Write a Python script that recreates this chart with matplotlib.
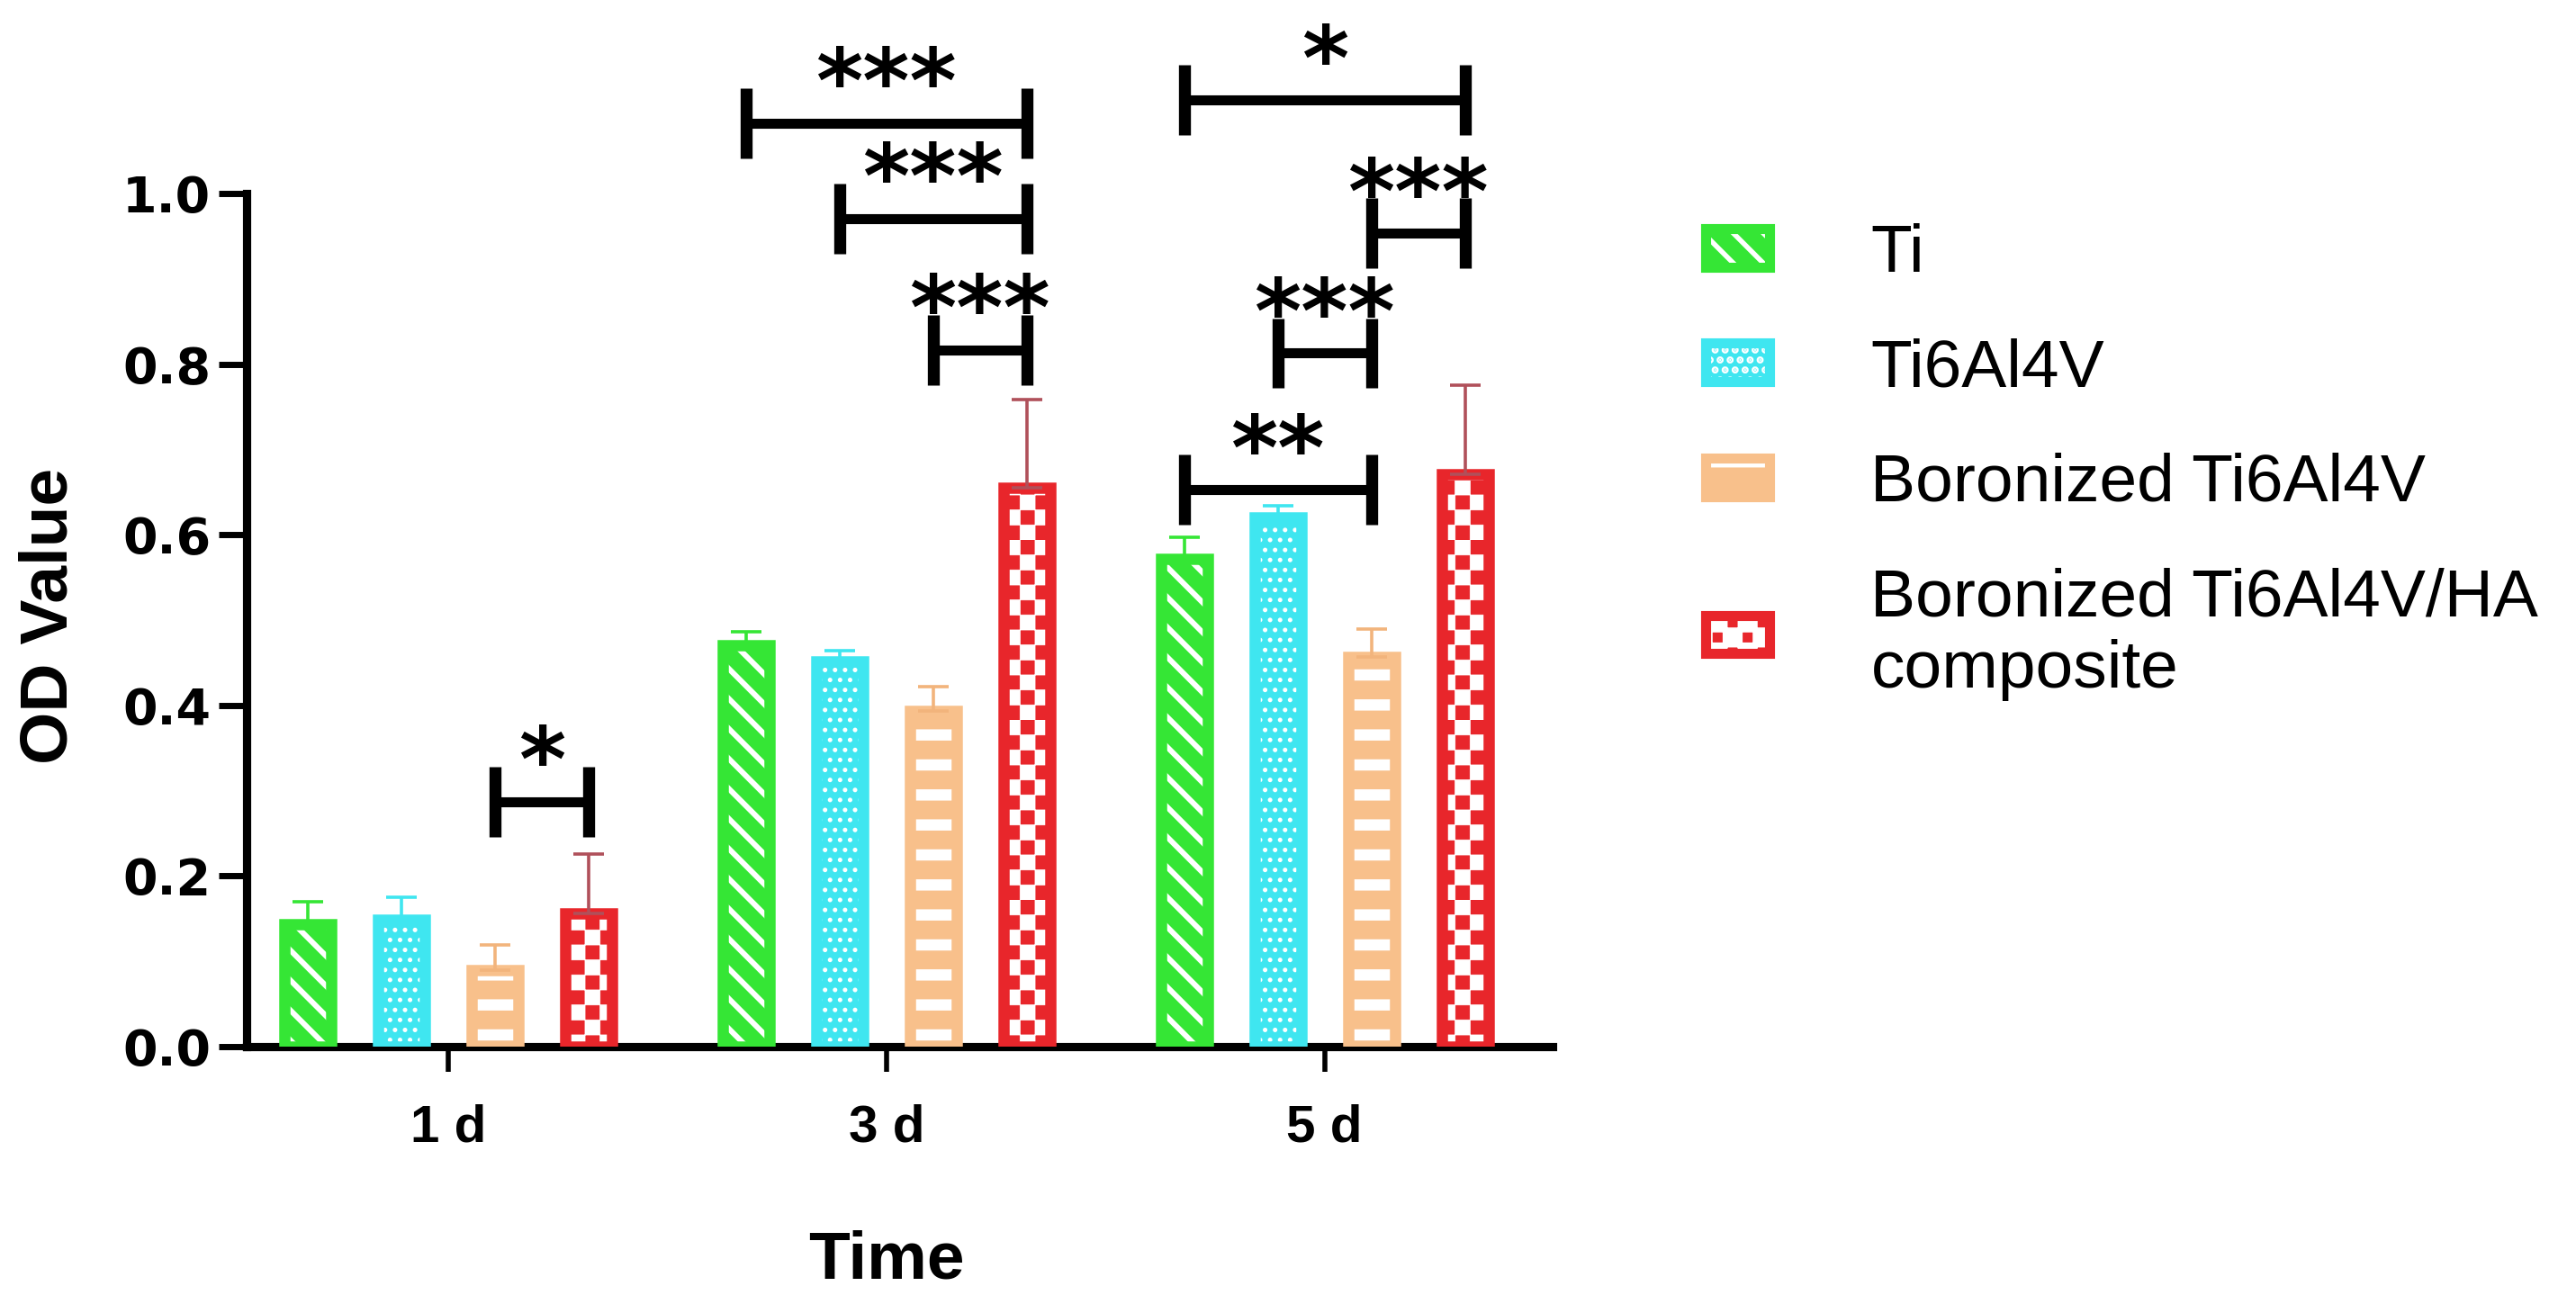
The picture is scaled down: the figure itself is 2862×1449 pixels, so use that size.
"""
OD value (cell proliferation) bar chart: four substrates at 1, 3 and 5 days,
with significance brackets above the bars.
Saves out.png
"""

import warnings

import numpy as np
import matplotlib

matplotlib.use("Agg")
import matplotlib.pyplot as plt
import matplotlib.patches as mpatches
from matplotlib import hatch as mhatch
from matplotlib.path import Path

warnings.filterwarnings("ignore")

# ---- data ----
days = ["1 d", "3 d", "5 d"]
groups = ["Ti", "Ti6Al4V", "Boronized Ti6Al4V", "Boronized Ti6Al4V/HA\ncomposite"]

od_ti = [0.143, 0.470, 0.572]
od_ti64 = [0.148, 0.451, 0.620]
od_boron = [0.089, 0.393, 0.457]
od_comp = [0.156, 0.655, 0.671]

sd_ti = [0.027, 0.016, 0.025]
sd_ti64 = [0.027, 0.013, 0.014]
sd_boron = [0.030, 0.029, 0.032]
sd_comp = [0.069, 0.104, 0.104]

# (day index, group a, group b, bracket height, stars)
brackets = [
    (0, 2, 3, 0.287, "*"),
    (1, 0, 3, 1.083, "***"),
    (1, 1, 3, 0.971, "***"),
    (1, 2, 3, 0.817, "***"),
    (2, 0, 3, 1.110, "*"),
    (2, 2, 3, 0.954, "***"),
    (2, 1, 2, 0.813, "***"),
    (2, 0, 2, 0.653, "**"),
]

# ---- styling ----
colors = ["#35e635", "#3fe6f0", "#f8c08b", "#e8262b"]
err_colors = ["#35e635", "#3fe6f0", "#f2b47c", "#b0505a"]
hatch_lw = [2.2, 1.0, 4.5, 0.3]


class CheckerHatch(mhatch.HatchPatternBase):
    """Checkerboard squares; each 'c' gives 6 cells per inch."""

    def __init__(self, hatch, density):
        self.n = hatch.count("c") * int(density)
        self.num_vertices = (self.n * self.n // 2) * 5

    def set_vertices_and_codes(self, vertices, codes):
        step = 1.0 / self.n
        k = 0
        for i in range(self.n):
            for j in range(self.n):
                if (i + j) % 2:
                    continue
                x0, y0 = i * step, j * step
                vertices[k:k + 5] = [[x0, y0], [x0 + step, y0],
                                     [x0 + step, y0 + step], [x0, y0 + step],
                                     [x0, y0]]
                codes[k] = Path.MOVETO
                codes[k + 1:k + 4] = Path.LINETO
                codes[k + 4] = Path.CLOSEPOLY
                k += 5


try:
    mhatch._hatch_types.append(CheckerHatch)
    checker = "cc"
except Exception:
    checker = "++"

hatches = ["\\\\", "...", "-", checker]

plt.rcParams["font.family"] = ["Liberation Sans", "DejaVu Sans"]
plt.rcParams["hatch.linewidth"] = 2.0


def set_hlw(patch, lw):
    if hasattr(patch, "set_hatch_linewidth"):
        patch.set_hatch_linewidth(lw)


def main() -> None:
    fig = plt.figure(figsize=(14.31, 7.245), dpi=200)
    ax = fig.add_axes([0.0957, 0.1977, 0.507, 0.7844])

    x = np.arange(len(days))
    step = 0.2135
    width = 0.107
    edge_lw = 4.5
    series = [od_ti, od_ti64, od_boron, od_comp]
    sds = [sd_ti, sd_ti64, sd_boron, sd_comp]

    for k in range(len(groups)):
        xs = x + (k - 1.5) * step
        fill = ax.bar(xs, series[k], width, color=colors[k], edgecolor="white",
                      linewidth=0, hatch=hatches[k], zorder=2)
        for p in fill:
            set_hlw(p, hatch_lw[k])
        ax.bar(xs, series[k], width, fill=False, edgecolor=colors[k],
               linewidth=edge_lw, joinstyle="miter", zorder=3)
        ax.errorbar(xs, series[k], yerr=[np.zeros(len(days)), sds[k]], fmt="none",
                    ecolor=err_colors[k], elinewidth=1.3, capsize=6,
                    capthick=1.3, zorder=4)

    # significance brackets
    tick = 0.041
    for day, a, b, h, stars in brackets:
        xa = x[day] + (a - 1.5) * step
        xb = x[day] + (b - 1.5) * step
        ax.plot([xa, xb], [h, h], color="black", lw=4, solid_capstyle="butt",
                zorder=5, clip_on=False)
        for xv in (xa, xb):
            ax.plot([xv, xv], [h - tick, h + tick], color="black", lw=4.8,
                    solid_capstyle="butt", zorder=5, clip_on=False)
        ax.text((xa + xb) / 2, h + 0.012, stars, ha="center", va="baseline",
                fontsize=36, fontweight="bold", family="DejaVu Sans")

    ax.set_xlim(-0.46, 2.52)
    ax.set_ylim(0, 1.2)
    yt = [0, 0.2, 0.4, 0.6, 0.8, 1.0]
    ax.set_yticks(yt, labels=[f"{v:.1f}" for v in yt], fontsize=20,
                  fontweight="bold", fontfamily="DejaVu Sans")
    ax.set_xticks(x, labels=days, fontsize=21, fontweight="bold")

    for side in ("top", "right"):
        ax.spines[side].set_visible(False)
    for side in ("left", "bottom"):
        ax.spines[side].set_linewidth(3.3)
    ax.spines["left"].set_bounds(0, 1.0)
    ax.tick_params(axis="y", length=11, width=2.5, pad=3.3)
    ax.tick_params(axis="x", length=10, width=2, pad=13)

    ax.set_xlabel("Time", fontsize=27, fontweight="bold")
    ax.xaxis.set_label_coords(0.49, -0.21)
    ax.xaxis.label.set_va("center")
    ax.set_ylabel("OD Value", fontsize=27, fontweight="bold")
    ax.yaxis.set_label_coords(-0.151, 0.421)
    ax.yaxis.label.set_va("center")

    handles = []
    for k in range(len(groups)):
        h1 = mpatches.Patch(facecolor=colors[k], edgecolor="white", linewidth=0,
                            hatch=hatches[k])
        set_hlw(h1, hatch_lw[k])
        h2 = mpatches.Patch(fill=False, edgecolor=colors[k], linewidth=4)
        handles.append((h1, h2))
    fig.legend(handles, groups, loc="upper left", bbox_to_anchor=(0.662, 0.829),
               frameon=False, prop={"family": "Liberation Sans", "size": 27},
               handlelength=0.95, handleheight=0.5, handletextpad=1.5,
               labelspacing=0.78, borderpad=0, borderaxespad=0)

    fig.savefig("out.png", dpi=200)


if __name__ == "__main__":
    main()
